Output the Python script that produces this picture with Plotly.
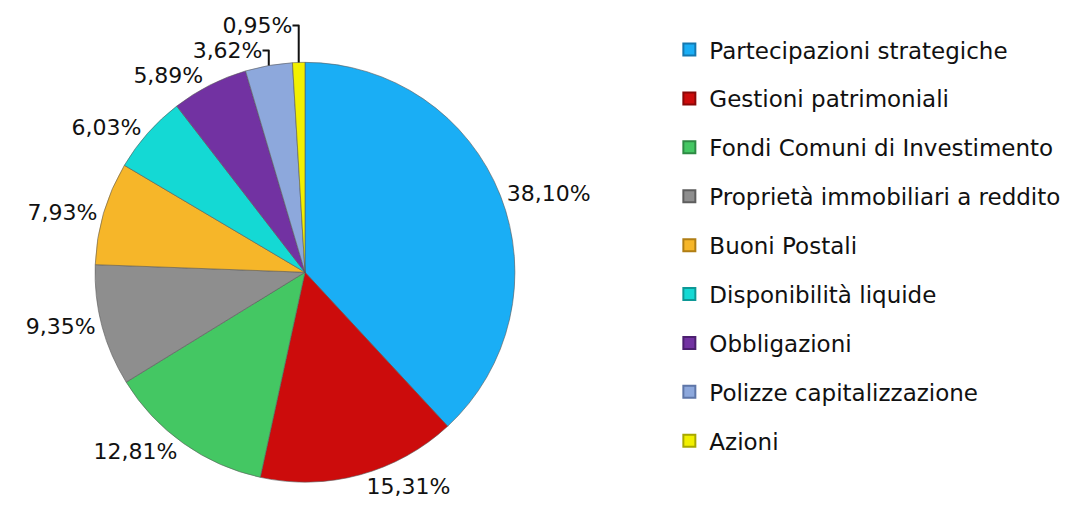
import plotly.graph_objects as go

categories = [
    "Partecipazioni strategiche",
    "Gestioni patrimoniali",
    "Fondi Comuni di Investimento",
    "Proprietà immobiliari a reddito",
    "Buoni Postali",
    "Disponibilità liquide",
    "Obbligazioni",
    "Polizze capitalizzazione",
    "Azioni",
]
values = [38.10, 15.31, 12.81, 9.35, 7.93, 6.03, 5.89, 3.62, 0.95]
colors = ["#1AAEF5", "#CC0C0C", "#44C763", "#8E8E8E", "#F6B629",
          "#14D9D4", "#7232A2", "#8DA8DC", "#F2F000"]
edge_colors = ["#1478B0", "#8A0808", "#2E8A44", "#5E5E5E", "#B07E14",
               "#0E9896", "#4C1F70", "#5E76A8", "#A8A800"]

FONT = "DejaVu Sans"

fig = go.Figure()
fig.add_trace(go.Pie(
    labels=categories,
    values=values,
    sort=False,
    direction="clockwise",
    rotation=0,
    marker=dict(colors=colors, line=dict(color="rgba(90,90,90,0.6)", width=1)),
    texttemplate="%{value:.2f}%",
    textposition="outside",
    textfont=dict(family=FONT, size=22, color="#111111"),
    outsidetextfont=dict(family=FONT, size=22, color="#111111"),
    showlegend=False,
    hoverinfo="label+value",
    domain=dict(x=[0.0745, 0.4765], y=[0.082, 0.925]),
))

# legend proxies (one per category)
for name, c, ec in zip(categories, colors, edge_colors):
    fig.add_trace(go.Scatter(
        x=[None], y=[None], mode="markers", name=name,
        legendgroup=name,
        marker=dict(symbol="square", size=12, color=c, line=dict(color=ec, width=1)),
    ))

fig.update_layout(
    width=1078, height=515,
    margin=dict(l=0, r=0, t=0, b=0),
    paper_bgcolor="white", plot_bgcolor="white",
    separators=",.",
    xaxis=dict(visible=False, domain=[0.99, 1.0]),
    yaxis=dict(visible=False, domain=[0.99, 1.0]),
    legend=dict(
        x=0.6135, y=0.557, xanchor="left", yanchor="middle",
        font=dict(family=FONT, size=23, color="#111111"),
        tracegroupgap=16,
        itemsizing="constant",
        bgcolor="rgba(0,0,0,0)",
    ),
)

fig.write_html("out.html")
